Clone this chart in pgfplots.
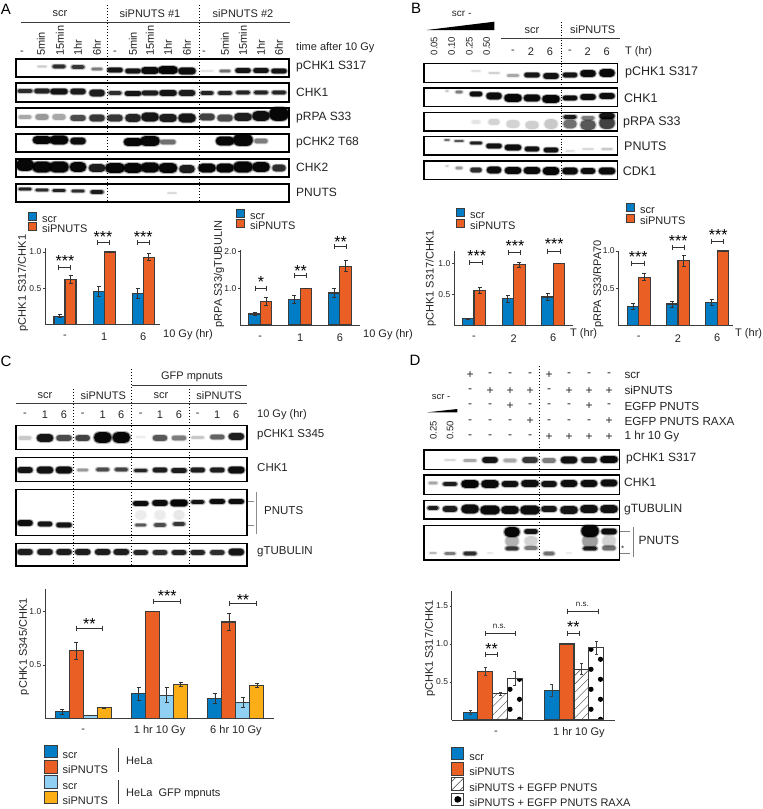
\documentclass[border=0pt]{standalone}
\usepackage{pgfplots}
\pgfplotsset{compat=1.18}
\usepackage{fontspec}
\setmainfont{Liberation Sans}
\usetikzlibrary{patterns,patterns.meta}
\definecolor{cblue}{RGB}{0,125,197}
\definecolor{corange}{RGB}{234,95,35}
\definecolor{clight}{RGB}{143,208,243}
\definecolor{cyellow}{RGB}{252,174,23}
\definecolor{cedge}{RGB}{60,60,60}
\definecolor{ctext}{RGB}{35,35,35}
\newcommand\fs[1]{\fontsize{#1}{#1}\selectfont}
% one layer of a blot band
\newcommand\bandlayer[3]{%
 \pgfmathsetlengthmacro\lw{\bw+#1}%
 \pgfmathsetlengthmacro\lh{\bh+#2}%
 \pgfmathsetlengthmacro\lww{2*\lw}%
 \pgfmathsetlengthmacro\lhh{2*\lh}%
 \pgfmathsetmacro\lo{#3*\bd/100}%
 \pgfsetfillopacity{\lo}%
 \pgfsetcornersarced{\pgfqpoint{\lh}{\lh}}%
 \pgfpathrectangle{\pgfqpoint{-\lw}{-\lh}}{\pgfqpoint{\lww}{\lhh}}%
 \pgfusepath{fill}}
\pgfdeclareplotmark{band}{%
 \pgfsetcolor{black}%
 \bandlayer{1.2}{1.0}{0.2}%
 \bandlayer{0.5}{0.4}{0.35}%
 \bandlayer{-0.3}{-0.2}{0.95}}
\pgfdeclarepatternformonly{bigdots}{\pgfqpoint{-10pt}{-10pt}}{\pgfqpoint{30pt}{30pt}}{\pgfqpoint{20.25pt}{20pt}}{%
 \pgfpathcircle{\pgfqpoint{3.75pt}{-0.3pt}}{2.6pt}%
 \pgfpathcircle{\pgfqpoint{13.25pt}{9.7pt}}{2.6pt}%
 \pgfusepath{fill}}
\pgfplotsset{
 bands/.style={scatter,only marks,mark=band,
  scatter/@pre marker code/.code={\scope},
  scatter/@post marker code/.code={\endscope},
  visualization depends on={\thisrow{w}\as\bw},
  visualization depends on={\thisrow{h}\as\bh},
  visualization depends on={\thisrow{d}\as\bd}},
 barax/.style={scale only axis,ymin=0,anchor=south west,
  axis x line*=bottom,axis y line*=left,axis line style={-,draw=cedge,line width=.9pt},
  ybar=0pt,enlargelimits=false,clip=false,xtick=data,
  x tick style={draw=none},major tick length=2pt,
  y tick style={draw=cedge,line width=.6pt},tick align=outside,
  tick label style={text=ctext},
  y tick label style={font=\fs{8.5},inner sep=1.5pt},
  x tick label style={font=\fs{11},anchor=center,yshift=-10.5pt},
  /pgf/number format/assume math mode=true,
  /pgf/number format/fixed,/pgf/number format/fixed zerofill,/pgf/number format/precision=1,
  error bars/y dir=both,error bars/y explicit,
  error bars/error bar style={draw=black!80,line width=.8pt},
  error bars/error mark options={rotate=90,mark size=2pt,line width=.8pt,draw=black!80},
  legend cell align=left,
  legend image code/.code={\draw[##1,line width=1pt](0pt,-1pt)rectangle(8pt,7pt);}},
 ylab/.style 2 args={every axis y label/.style={at={(rel axis cs:#1,#2)},rotate=90,anchor=center,font=\fs{11},text=ctext}},
 smallleg/.style 2 args={legend style={at={(rel axis cs:0,0)},anchor=north west,xshift=#1,yshift=#2,draw=none,fill=none,inner sep=0pt,
  row sep=-2.1pt,font=\fs{11},text=ctext,nodes={inner ysep=0pt,inner xsep=5pt,text height=8pt,text depth=2pt}}},
 bigleg/.style 2 args={legend image code/.code={\draw[##1,line width=1pt](0pt,-2.5pt)rectangle(12.5pt,10pt);},
  legend style={at={(rel axis cs:0,0)},anchor=north west,xshift=#1,yshift=#2,draw=none,fill=none,inner sep=0pt,
  row sep=-1.5pt,font=\fs{11},text=ctext,nodes={inner ysep=0pt,inner xsep=5pt,text height=9.5pt,text depth=3pt}}},
 sblue/.style={fill=cblue,draw=cedge,line width=1.1pt},
 sorange/.style={fill=corange,draw=cedge,line width=1.1pt},
 slight/.style={fill=clight,draw=cedge,line width=1.1pt},
 syellow/.style={fill=cyellow,draw=cedge,line width=1.1pt},
}
% helpers, in picture pixels
\newcommand\blot[4]{\draw[black,line width=1.1pt](#1,#2)rectangle(#3,#4);}
\newcommand\lab[4][12]{\node[anchor=west,inner sep=0pt,font=\fs{#1},text=ctext] at (#2,#3){#4};}
\newcommand\ctr[4][11]{\node[anchor=center,inner sep=0pt,font=\fs{#1},text=ctext] at (#2,#3){#4};}
\newcommand\rlab[3]{\node[rotate=90,anchor=west,inner sep=0pt,font=\fs{11},text=ctext] at (#1,#2){#3};}
\newcommand\rctr[3]{\node[rotate=90,anchor=center,inner sep=0pt,font=\fs{9.5},text=ctext] at (#1,#2){#3};}
\newcommand\brk[3]{\draw[black!80,line width=.9pt](#1,#3-2.5)--(#1,#3+2.5)(#1,#3)--(#2,#3)(#2,#3-2.5)--(#2,#3+2.5);}
\newcommand\sig[3]{\node[anchor=center,inner sep=0pt,font=\fs{16},text=black] at (#1,#2+3.5){#3};}
\newcommand\vdot[3]{\draw[black,line width=1pt,dotted](#1,#2)--(#1,#3);}
\newcommand\mrow[9]{\ctr[12]{470}{#1}{#2}\ctr[12]{490}{#1}{#3}\ctr[12]{510}{#1}{#4}\ctr[12]{530}{#1}{#5}\ctr[12]{549}{#1}{#6}\ctr[12]{569}{#1}{#7}\ctr[12]{589}{#1}{#8}\ctr[12]{609}{#1}{#9}}
\begin{document}
\begin{tikzpicture}[x=1pt,y=1pt]
\path[use as bounding box](0pt,0pt)rectangle(763pt,809pt);
\begin{axis}[at={(0pt,0pt)},anchor=south west,scale only axis,width=763pt,height=809pt,
 xmin=0,xmax=763,ymin=0,ymax=809,y dir=reverse,hide axis,clip=false]
\addplot[bands] table {
x y w h d
42 66.5 5 1 15
59 66.5 7 2 75
78 67 7 2 70
97 69 6 1.5 40
115 70 8 2.5 90
133 71 8 2.5 90
150 70.5 9 3.5 95
168 70 10 4 100
187 71 9 3.5 95
207 71 7 1 8
225 71 6 1.5 45
243 70.5 8 2.5 90
261 70.5 8 2.5 90
279 71 8 2.5 90
25 91 8 2 75
42 91 8 2.5 80
59 91.5 9 3 90
78 91.5 8 3 85
97 93 8 3.5 85
115 93 7 2 75
133 93.5 8.5 2.5 90
150 93 8.5 2.5 85
168 93 9 3 90
187 93 8.5 3 85
207 93 7 2 80
225 93 7.5 2 80
243 92.5 7.5 2 80
261 92.5 7.5 2 80
279 92.5 7.5 2 80
25 117 7 2 25
42 117 7 3 30
59 117 7 3 25
78 118 8 3 60
97 118 8 3.5 70
115 118 8 3.5 70
133 118 8 4 80
150 117 9 4.5 90
168 118 9 4 85
187 118 9 4.5 90
207 117 8 3.5 65
225 118 8 3.5 60
243 117 9 4 85
261 116 9 5 95
279 114 10 7 100
42 140 9.5 4 100
59 140 9.5 4.5 100
78 141 8 3.5 95
133 142 9.5 4 100
150 141 10 5 100
168 142 8 2.5 45
225 141 9.5 4.5 100
243 140 10 6 100
261 141 7 2.5 40
25 165 9 6 100
42 167 10 5.5 100
59 167 10 5.5 100
78 167 8.5 5 100
97 168 8.5 4 85
115 168 10 5 100
133 168 9.5 5 100
150 167.5 9.5 5 100
168 168 9.5 5 100
187 169 8 4 85
207 168 9 4.5 100
225 168 9 4.5 100
243 167 10 5.5 100
261 167 9 5 100
279 168 7 3.5 75
25 189 7 1.5 80
42 190 7 1.5 75
59 190.5 7 1.5 80
78 191 7 1.5 75
97 192 7 2 85
172 193 5 .8 12
476 71 5 1 8
494 73 6 1 12
513 75.5 6.5 1.5 25
532 75 8 2.5 90
551 76 8 3 92
570 75 7.5 2.5 90
588 73.5 8 3.5 97
607 73 8 4 100
447 91 2 1 15
459 92 4 1.5 40
476 94 6.5 2.5 95
494 96 8 3.5 95
513 98 9 4 100
532 98 8.5 3.5 97
551 99 9 4 100
570 98 7.5 2.5 95
588 97 8 3 95
607 96 8 3 95
476 122 5 2 7
494 122 6 3 12
513 124 7 4 12
532 125 7 4 13
551 124 7 5 15
570 117 7 2 85
570 124 7 4.5 45
588 118 7 2 40
588 125 8 5 55
607 116 8 3 90
607 123 8 6 65
447 140 3 1 45
459 141 5 1 55
476 143 6.5 1.5 85
494 146 8 2.5 92
513 147.5 8.5 3 95
532 149 7.5 2.5 92
551 150 7.5 2.5 92
570 151 5 1 8
588 149 6 1 10
607 149 6 1.2 15
447 166 2 1 12
459 168 4 1.5 30
476 170 6 2.5 75
494 170 7.5 3.5 95
513 170.5 8.5 3.5 97
532 170.5 8.5 3.5 97
551 171 8.5 4 100
570 171 8 3.5 97
588 171 7.5 3 95
607 171 8.5 3.5 97
25 438 7 2 15
45 438 8.5 4 90
64 438 8 3 60
82.7 438 7.5 3 65
102.7 437.5 9 5.5 100
121.3 437.5 9 5.5 100
140.7 437 5 1 5
160 438 7.5 3 55
179 438 7.5 2.5 40
197.7 437.5 7 1.5 15
217.3 437 7.5 2.5 50
236.3 436.5 8 3.5 85
25 470 8 3 90
45 470 8.5 3.5 92
64 470 8.5 3.5 95
82.7 470 6 1.5 30
102.7 469.5 7 2 60
121.3 469.5 7 2 65
140.7 470.5 7 1.8 80
160 470 7.5 2.5 85
179 470.5 8 2.5 85
197.7 470 7.5 2.5 85
217.3 470 7.5 2.5 85
236.3 470 8.5 3.5 95
25 523 8 3 95
45 524 7.5 2.5 90
64 525 8 2.5 90
140.7 515 6 5 5
160 515 6 5 5
179 515 6 5 6
140.7 503.5 8 2.5 95
160 503 8 3 95
179 503 9 3.5 100
197.7 502 7 2 90
217.3 501.5 8 2.5 95
236.3 501.5 8 2.5 95
140.7 525 6 1.5 55
160 525 6.5 2 60
179 524 6.5 2 70
25 552 8 3 85
45 552 8 3 85
64 552 8 3 85
82.7 552 8 3 85
102.7 552 8 3 85
121.3 552 8 3 85
140.7 552.5 7.5 2.5 80
160 552.5 7.5 2.5 75
179 552.5 7.5 2.5 80
197.7 552.5 7.5 2.5 80
217.3 552.5 7.5 2.5 75
236.3 552 8 3.5 90
450 460 6 1 10
470 460.5 7 1.5 25
490 460 8 3 90
510 460.5 7 2 25
530 460 8 3 70
549 460.5 7 2.5 40
569 460 8.5 3.5 92
589 460 8 3 85
609 459.5 9 3.5 97
433 483 5 1.5 25
450 484 7.5 2 85
470 484 9 4 100
490 484 9 4 97
510 484 8.5 3 92
530 483.5 9 3.5 95
549 484 8 3 92
569 483.5 8.5 3.5 95
589 483.5 8.5 3.5 95
609 483 8.5 3.5 95
433 508 6 2 85
450 509 7.5 3 85
470 509 9 4.5 95
490 510 10 4.5 97
510 510 9 4 95
530 510 10 4.5 95
549 509 8 3 88
569 510 9 4 90
589 509 9 4 92
609 509 9 4 92
433 553 4 1 20
450 553.5 6 1.5 40
470 553.5 7 2 75
490 553 3 .6 10
512 541 7 6 22
512 548.5 7 2 70
512 532 8 5 100
531 541 7 5 12
531 548 7 2 40
531 531.5 7 2.5 90
549 553.5 6 2 45
569 553 3 .6 8
590 541 8 7 28
590 548.5 7.5 2 85
590 531 9 6 100
609 541 7 6 12
609 548 7 2.5 45
609 531.5 8 3 95
};
% ---- panel A
\node[anchor=center,inner sep=0pt,font=\fs{15},text=black] at (6,9){A};
\ctr[11]{60}{14}{scr}\ctr[11]{150}{14}{siPNUTS \#1}\ctr[11]{243}{14}{siPNUTS \#2}
\draw[cedge,line width=1pt](21,22)--(290,22);
\ctr[11]{22}{53}{-}\ctr[11]{115}{53}{-}\ctr[11]{204}{53}{-}
\rlab{41}{56}{5min}\rlab{60}{56}{15min}\rlab{78}{56}{1hr}\rlab{97}{56}{6hr}
\rlab{133}{56}{5min}\rlab{150}{56}{15min}\rlab{168}{56}{1hr}\rlab{187}{56}{6hr}
\rlab{225}{56}{5min}\rlab{243}{56}{15min}\rlab{261}{56}{1hr}\rlab{279}{56}{6hr}
\blot{16}{59}{289}{77}\blot{16}{83}{289}{102}\blot{16}{108}{289}{127}\blot{16}{134}{289}{152}\blot{16}{159}{289}{177}\blot{16}{184}{289}{202}
\vdot{107.5}{5}{202}\vdot{199}{5}{202}
\lab[11]{296}{48}{time after 10 Gy}
\lab{296}{66.7}{pCHK1 S317}\lab{296}{92}{CHK1}\lab{296}{118}{pRPA S33}\lab{296}{143}{pCHK2 T68}\lab{296}{167.7}{CHK2}\lab{296}{192.7}{PNUTS}
\brk{58.3}{70.7}{267.3}\sig{65}{257}{***}
\brk{97.3}{109.3}{242.7}\sig{103}{233}{***}
\brk{137.3}{149.3}{242.7}\sig{143.3}{233}{***}
\lab[11]{163}{335}{10 Gy (hr)}
\brk{255}{266.7}{288.3}\sig{261}{278}{*}
\brk{294.7}{306.7}{275}\sig{300.7}{267}{**}
\brk{334}{346}{246.3}\sig{340.7}{238}{**}
\lab[11]{363}{335}{10 Gy (hr)}
% ---- panel B
\node[anchor=center,inner sep=0pt,font=\fs{15},text=black] at (416,8){B};
\ctr[10]{461.7}{14}{scr -}
\fill[black](426.7,30)--(494.3,21.7)--(494.3,30)--cycle;
\rctr{434}{46}{0.05}\rctr{451.7}{46}{0.10}\rctr{469.3}{46}{0.25}\rctr{486.7}{46}{0.50}
\ctr[11]{532}{31}{scr}\ctr[11]{592.7}{30}{siPNUTS}
\draw[cedge,line width=1pt](501,38.7)--(620,38.7);
\ctr[11]{513}{52}{-}\ctr[11]{531}{52}{2}\ctr[11]{550}{52}{6}\ctr[11]{570}{52}{-}\ctr[11]{587.7}{52}{2}\ctr[11]{606.7}{52}{6}
\lab[11]{625}{52}{T (hr)}
\blot{424}{63.3}{617.3}{82.3}\blot{424}{88}{617.3}{106.7}\blot{424}{112.3}{617.3}{131}\blot{424}{136.7}{617.3}{155}\blot{424}{161}{617.3}{179.3}
\draw[black,line width=.6pt,dotted](561.3,22)--(561.3,180);
\lab[12.5]{625}{72.7}{pCHK1 S317}\lab[12.5]{624}{97.7}{CHK1}\lab[12.5]{623}{122}{pRPA S33}\lab[12.5]{624}{145.7}{PNUTS}\lab[12.5]{622.7}{171}{CDK1}
\brk{469.7}{482.3}{262.7}\sig{476.7}{252.3}{***}
\brk{508.3}{520.7}{252.7}\sig{515}{242.7}{***}
\brk{547.7}{560.3}{251}\sig{554.3}{240.7}{***}
\lab[11]{570}{334}{T (hr)}
\brk{631.7}{644}{263.3}\sig{638.3}{253.3}{***}
\brk{672}{684}{247.7}\sig{678.3}{237.7}{***}
\brk{711.7}{723.7}{241.3}\sig{718.3}{231}{***}
\lab[11]{735}{334}{T (hr)}
% ---- panel C
\node[anchor=center,inner sep=0pt,font=\fs{15},text=black] at (6,361){C};
\ctr[11]{192}{376.7}{GFP mpnuts}
\draw[cedge,line width=.8pt](132,385)--(246.7,385);
\ctr[11]{45}{396}{scr}\ctr[11]{103.3}{396}{siPNUTS}\ctr[11]{161}{396}{scr}\ctr[11]{219}{396}{siPNUTS}
\draw[cedge,line width=1.2pt](16,403.3)--(247.3,403.3);
\ctr[11]{25}{415}{-}\ctr[11]{45}{415}{1}\ctr[11]{64}{415}{6}\ctr[11]{82.7}{415}{-}\ctr[11]{102.7}{415}{1}\ctr[11]{121.3}{415}{6}
\ctr[11]{140.7}{415}{-}\ctr[11]{160}{415}{1}\ctr[11]{179}{415}{6}\ctr[11]{197.7}{415}{-}\ctr[11]{217.3}{415}{1}\ctr[11]{236.3}{415}{6}
\lab[11]{257}{415}{10 Gy (hr)}
\blot{16}{425.7}{247}{449.3}\blot{16}{457.3}{247}{481.7}\blot{16}{489.3}{247}{535.3}\blot{16}{543.3}{247}{566}
\vdot{73.3}{389}{566}\vdot{131.7}{369}{566}\vdot{189.7}{389}{566}
\lab[11.5]{257}{434.7}{pCHK1 S345}\lab[11.5]{257}{467.7}{CHK1}\lab[11.5]{264}{511}{PNUTS}\lab[11.5]{257}{551.7}{gTUBULIN}
\draw[black!45,line width=.7pt](256.7,491.7)--(256.7,534)(248,501)--(254,501)(248,525)--(254,525);
\brk{76}{102.3}{628}\sig{89.3}{620}{**}
\brk{153.3}{180}{601.7}\sig{167.3}{592.7}{***}
\brk{229.3}{256}{603.7}\sig{243}{596}{**}
\draw[cedge,line width=.8pt](118,748)--(118,772)(118,780)--(118,804);
\lab[11]{126}{760.7}{HeLa}\lab[11]{126}{794}{HeLa\ \ GFP mpnuts}
% ---- panel D
\node[anchor=center,inner sep=0pt,font=\fs{15},text=black] at (415,360){D};
\ctr[9.5]{441}{396.7}{scr -}
\fill[black](427.3,412.3)--(457.3,409)--(457.3,412.3)--cycle;
\rctr{433.3}{430.5}{0.25}\rctr{450}{430.5}{0.50}
\mrow{375}{+}{-}{-}{-}{+}{-}{-}{-}
\mrow{390.7}{-}{+}{+}{+}{-}{+}{+}{+}
\mrow{406}{-}{-}{+}{-}{-}{-}{+}{-}
\mrow{421.3}{-}{-}{-}{+}{-}{-}{-}{+}
\mrow{436.7}{-}{-}{-}{-}{+}{+}{+}{+}
\lab[11.7]{624.3}{375}{scr}\lab[11.7]{624.3}{390.7}{siPNUTS}\lab[11.7]{624.3}{406}{EGFP PNUTS}\lab[11.7]{624.3}{421.3}{EGFP PNUTS RAXA}\lab[11.7]{624.3}{436.7}{1 hr 10 Gy}
\blot{424}{450}{619.3}{469.3}\blot{424}{475}{619.3}{494.3}\blot{424}{500.3}{619.3}{519}\blot{424}{525.3}{619.3}{560}
\vdot{539.3}{366}{558.3}
\lab[12]{626}{459}{pCHK1 S317}\lab[12]{624}{482.7}{CHK1}\lab[12]{624}{509.3}{gTUBULIN}\lab[12]{638.3}{540.7}{PNUTS}
\draw[black!50,line width=.7pt](633.3,527.3)--(633.3,557)(620,531)--(630,531)(620,553)--(630,553);
\ctr[8]{622.7}{549}{*}
\brk{485.3}{497.3}{654}\sig{491.7}{645}{**}
\brk{485.3}{515.7}{633.7}\ctr[8]{499.3}{626.7}{n.s.}
\brk{567}{579}{633}\sig{573.3}{623.3}{**}
\brk{567.7}{598.3}{611}\ctr[8]{582.3}{604}{n.s.}
\end{axis}
% ---- A left
\begin{axis}[barax,at={(45pt,484.7pt)},width=115pt,height=75.9pt,xmin=-.511,xmax=2.427,ymax=1.05,
 ytick={.5,1},xticklabels={-,1,6},bar width=11pt,ylabel={pCHK1 S317/CHK1},ylab={-.191}{.544},smallleg={-17pt}{112.6pt}]
\addplot[sblue] coordinates {(0,.11)+-(0,.02) (1,.45)+-(0,.07) (2,.43)+-(0,.07)};
\addplot[sorange] coordinates {(0,.62)+-(0,.05) (1,1)+-(0,0) (2,.93)+-(0,.05)};
\legend{scr,siPNUTS}
\end{axis}
% ---- A right
\begin{axis}[barax,at={(240pt,484pt)},width=120pt,height=75pt,xmin=-.51,xmax=2.505,ymax=2.04,
 ytick={1,2},xticklabels={-,1,6},bar width=11.5pt,ylabel={pRPA S33/gTUBULIN},ylab={-.175}{.68},smallleg={-4pt}{116.5pt}]
\addplot[sblue] coordinates {(0,.3)+-(0,.05) (1,.7)+-(0,.1) (2,.87)+-(0,.12)};
\addplot[sorange] coordinates {(0,.64)+-(0,.1) (1,1)+-(0,0) (2,1.6)+-(0,.15)};
\legend{scr,siPNUTS}
\end{axis}
% ---- B left
\begin{axis}[barax,at={(454pt,483.3pt)},width=119pt,height=74.7pt,xmin=-.504,xmax=2.497,ymax=1.197,
 ytick={.5,1},xticklabels={-,2,6},bar width=11.5pt,ylabel={pCHK1 S317/CHK1},ylab={-.196}{.635},smallleg={2pt}{117.7pt}]
\addplot[sblue] coordinates {(0,.11)+-(0,.01) (1,.43)+-(0,.05) (2,.46)+-(0,.06)};
\addplot[sorange] coordinates {(0,.57)+-(0,.05) (1,.98)+-(0,.04) (2,1)+-(0,0)};
\legend{scr,siPNUTS}
\end{axis}
% ---- B right
\begin{axis}[barax,at={(618.3pt,483.3pt)},width=114.7pt,height=74.7pt,xmin=-.519,xmax=2.4,ymax=1,
 ytick={.5,1},xticklabels={-,2,6},bar width=11.5pt,ylabel={pRPA S33/RPA70},ylab={-.174}{.561},smallleg={7.7pt}{122.5pt}]
\addplot[sblue] coordinates {(0,.26)+-(0,.04) (1,.29)+-(0,.04) (2,.31)+-(0,.04)};
\addplot[sorange] coordinates {(0,.65)+-(0,.05) (1,.87)+-(0,.07) (2,1)+-(0,0)};
\legend{scr,siPNUTS}
\end{axis}
% ---- C
\begin{axis}[barax,at={(45pt,90.7pt)},width=229pt,height=129pt,xmin=-.502,xmax=2.499,ymax=1.206,
 ytick={.5,1},xticklabels={-,1 hr 10 Gy,6 hr 10 Gy},bar width=14pt,ylabel={pCHK1 S345/CHK1},ylab={-.092}{.555},bigleg={-1pt}{-26.4pt}]
\addplot[sblue] coordinates {(0,.06)+-(0,.02) (1,.23)+-(0,.06) (2,.185)+-(0,.045)};
\addplot[sorange] coordinates {(0,.63)+-(0,.08) (1,1)+-(0,0) (2,.9)+-(0,.08)};
\addplot[slight] coordinates {(0,.025)+-(0,0) (1,.215)+-(0,.07) (2,.15)+-(0,.05)};
\addplot[syellow] coordinates {(0,.1)+-(0,.005) (1,.32)+-(0,.02) (2,.31)+-(0,.02)};
\legend{scr,siPNUTS,scr,siPNUTS}
\end{axis}
% ---- D
\begin{axis}[barax,at={(451.7pt,89pt)},width=163.3pt,height=129pt,xmin=-.504,xmax=1.504,ymax=1.697,
 ytick={.5,1,1.5},xtick={.04,1.06},xticklabels={-,1 hr 10 Gy},bar width=14.8pt,ylabel={pCHK1 S317/CHK1},ylab={-.133}{.553},bigleg={-1pt}{-26.7pt},
 error bars/error bar style={draw=black!75,line width=.5pt},
 error bars/error mark options={rotate=90,mark size=1.5pt,line width=.5pt,draw=black!75}]
\addplot[sblue] coordinates {(0,.1)+-(0,.03) (1,.39)+-(0,.08)};
\addplot[sorange] coordinates {(0,.64)+-(0,.05) (1,1)+-(0,0)};
\addplot[draw=cedge,line width=1.1pt,pattern={Lines[angle=45,distance=6pt,line width=.4pt]},pattern color=black!75] coordinates {(0,.35)+-(0,.02) (1,.67)+-(0,.07)};
\addplot[draw=cedge,line width=1.1pt,pattern=bigdots,pattern color=black,
 legend image code/.code={\draw[draw=cedge,line width=1pt](0pt,-2.5pt)rectangle(12.5pt,10pt);\fill[black](6.25pt,3.75pt)circle(2.7pt);}] coordinates {(0,.55)+-(0,.09) (1,.95)+-(0,.08)};
\legend{scr,siPNUTS,siPNUTS + EGFP PNUTS,siPNUTS + EGFP PNUTS RAXA}
\end{axis}
\end{tikzpicture}
\end{document}
